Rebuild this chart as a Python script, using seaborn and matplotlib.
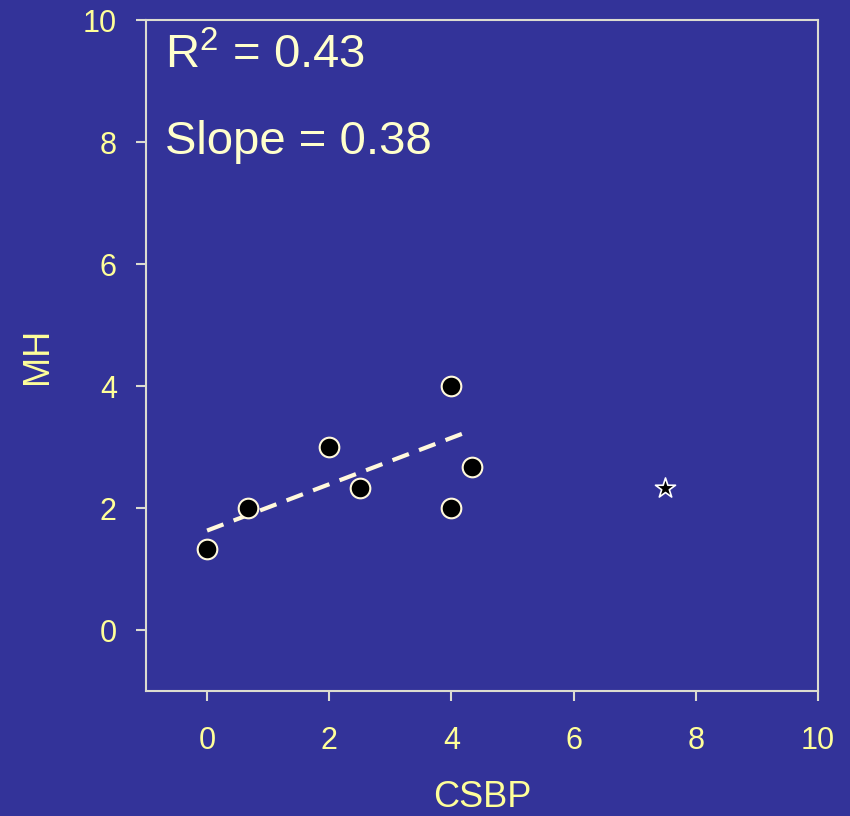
import matplotlib
matplotlib.use("Agg")
import matplotlib.pyplot as plt
import seaborn as sns
import pandas as pd

# Data
csbp = [0.0, 0.67, 2.0, 2.5, 4.0, 4.0, 4.33]
mh = [1.33, 2.0, 3.0, 2.33, 4.0, 2.0, 2.67]
outlier_csbp = [7.5]
outlier_mh = [2.33]
fit_x = [0.0, 4.25]
fit_y = [1.63, 3.245]
xticks = [0, 2, 4, 6, 8, 10]
yticks = [0, 2, 4, 6, 8, 10]
r2_text = "R$^{2}$ = 0.43"
slope_text = "Slope = 0.38"

BG = "#333399"
SPINE = "#dcdcd0"
TICKC = "#ffff99"
TEXTC = "#ffffcc"

sns.set_theme(style="white")
plt.rcParams["font.family"] = ["Liberation Sans", "DejaVu Sans"]
plt.rcParams["mathtext.fontset"] = "custom"
plt.rcParams["mathtext.rm"] = "Liberation Sans"
plt.rcParams["mathtext.it"] = "Liberation Sans"

fig = plt.figure(figsize=(8.5, 8.16), dpi=100, facecolor=BG)
ax = fig.add_axes([146 / 850, 1 - 691 / 816, 672 / 850, 671 / 816])
ax.set_facecolor(BG)

df = pd.DataFrame({"CSBP": csbp, "MH": mh})
fit = pd.DataFrame({"x": fit_x, "y": fit_y})
out = pd.DataFrame({"x": outlier_csbp, "y": outlier_mh})

sns.lineplot(data=fit, x="x", y="y", ax=ax, color="#fff8dc", linewidth=3.0,
             dashes=False, zorder=2)
ax.lines[-1].set_dashes([4.2, 2.6])
ax.lines[-1].set_dash_capstyle("butt")

sns.scatterplot(data=df, x="CSBP", y="MH", ax=ax, s=200, color="black",
                edgecolor="#fff8dc", linewidth=1.5, zorder=3)
sns.scatterplot(data=out, x="x", y="y", ax=ax, marker="*", s=230, color="black",
                edgecolor="white", linewidth=1.2, zorder=3)

ax.set_xlim(-1, 10)
ax.set_ylim(-1, 10)
ax.set_xticks(xticks)
ax.set_yticks(yticks)

for s in ax.spines.values():
    s.set_color(SPINE)
    s.set_linewidth(1.5)
    s.set_visible(True)

ax.tick_params(axis="both", which="major", direction="out", length=7, width=1.5,
               color=SPINE, labelcolor=TICKC, labelsize=22,
               bottom=True, left=True)
ax.tick_params(axis="x", pad=18)
ax.tick_params(axis="y", pad=14)

ax.set_xlabel("CSBP", color=TICKC, fontsize=26)
ax.set_ylabel("MH", color=TICKC, fontsize=26)
ax.xaxis.set_label_coords(0.5, -0.159)
ax.yaxis.set_label_coords(-0.161, 0.5)
ax.xaxis.label.set_va("center")
ax.yaxis.label.set_va("center")

ax.text(0.028, 0.928, r2_text, transform=ax.transAxes, color=TEXTC,
        fontsize=34, ha="left", va="baseline")
ax.text(0.028, 0.80, slope_text, transform=ax.transAxes, color=TEXTC,
        fontsize=34, ha="left", va="baseline")

fig.savefig("out.png", dpi=100, facecolor=BG)
